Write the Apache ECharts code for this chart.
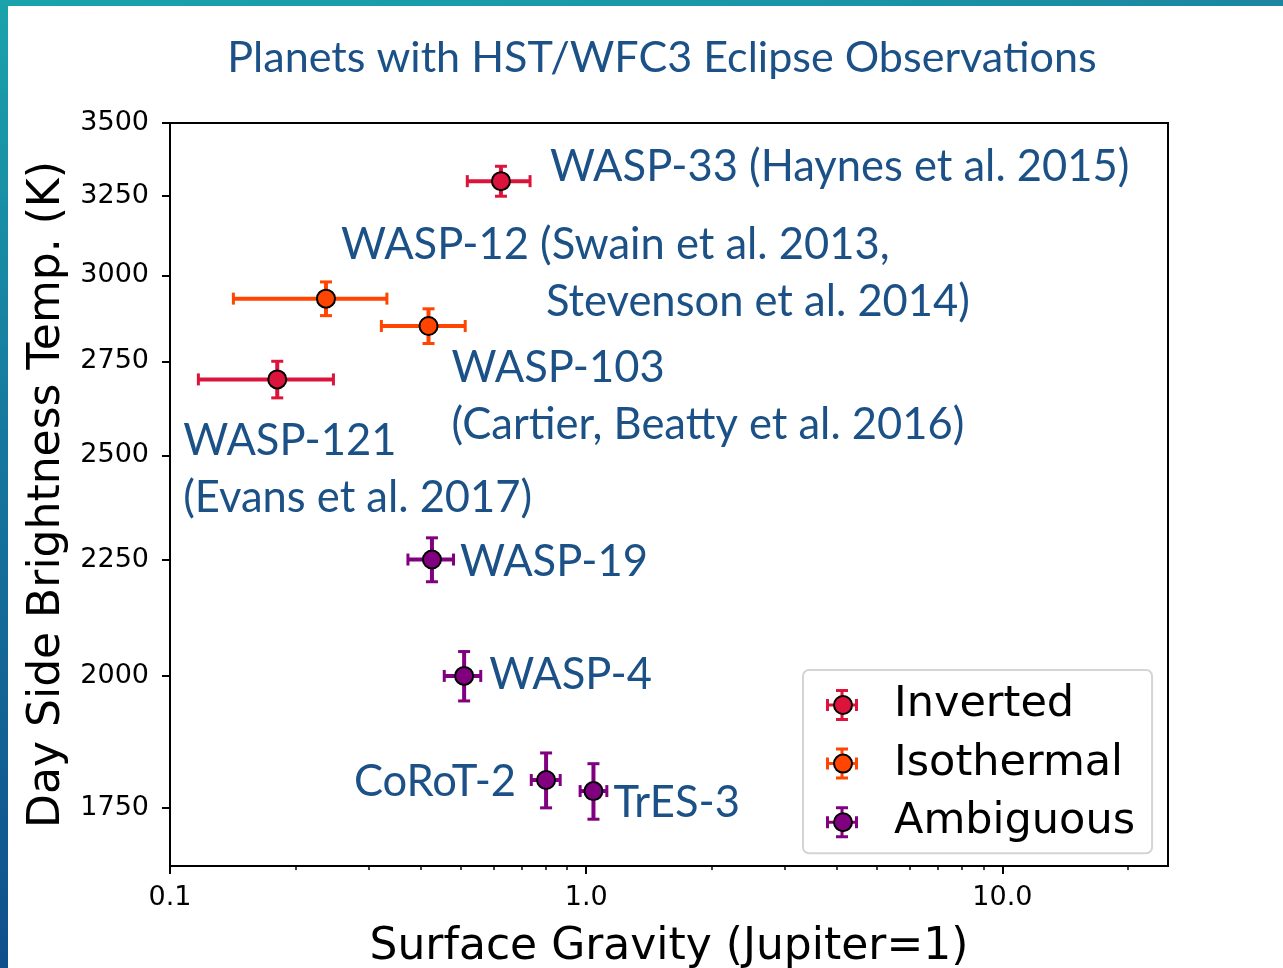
<!DOCTYPE html>
<html>
<head>
<meta charset="utf-8">
<title>Planets with HST/WFC3 Eclipse Observations</title>
<script src="https://cdn.jsdelivr.net/npm/echarts@6/dist/echarts.min.js"></script>
<style>
  html, body { margin: 0; padding: 0; background: #ffffff; }
  #frame-top { position: absolute; left: 0; top: 0; width: 1283px; height: 6px;
    background: linear-gradient(90deg, #1aa3ab 0%, #1997a8 60%, #1b86a0 100%); z-index: 2; }
  #frame-left { position: absolute; left: 0; top: 0; width: 8px; height: 968px;
    background: linear-gradient(180deg, #1aa3ab 0%, #16789e 45%, #0f4f8c 100%); z-index: 2; }
  #chart { position: absolute; left: 0; top: 0; width: 1283px; height: 968px; }
</style>
</head>
<body>
<div id="chart"></div>
<div id="frame-top"></div>
<div id="frame-left"></div>
<script>
// ---- data ----
const planets   = ['WASP-33', 'WASP-12', 'WASP-103', 'WASP-121', 'WASP-19', 'WASP-4', 'CoRoT-2', 'TrES-3'];
const classes   = ['Inverted', 'Isothermal', 'Isothermal', 'Inverted', 'Ambiguous', 'Ambiguous', 'Ambiguous', 'Ambiguous'];
const gravity   = [0.624, 0.237, 0.418, 0.181, 0.426, 0.509, 0.801, 1.041];   // Jupiter = 1
const gravityLo = [0.518, 0.142, 0.322, 0.117, 0.373, 0.456, 0.738, 0.967];
const gravityHi = [0.733, 0.332, 0.512, 0.247, 0.480, 0.558, 0.866, 1.121];
const tempK     = [3300, 2930, 2850, 2700, 2250, 2000, 1800, 1780];
const tempErr   = [50, 50, 50, 50, 50, 50, 50, 50];
const references = [
  'WASP-33 (Haynes et al. 2015)',
  ['WASP-12 (Swain et al. 2013,', 'Stevenson et al. 2014)'],
  ['WASP-103', '(Cartier, Beatty et al. 2016)'],
  ['WASP-121', '(Evans et al. 2017)'],
  'WASP-19',
  'WASP-4',
  'CoRoT-2',
  'TrES-3'
];
const categoryNames = ['Inverted', 'Isothermal', 'Ambiguous'];
const yTicks = [1750, 2000, 2250, 2500, 2750, 3000, 3250, 3500];
const xTicks = [0.1, 1, 10];
const xMinorTicks = [0.2, 0.3, 0.4, 0.5, 0.6, 0.7, 0.8, 0.9, 2, 3, 4, 5, 6, 7, 8, 9, 20];

// ---- styling ----
const colors = { Inverted: '#DC143C', Isothermal: '#FF4500', Ambiguous: '#800080' };
const noteColor = '#1B5186';
const noteFont = 'Lato';
const noteSize = 43.5;
const axisFont = 'DejaVu Sans';
// label anchor relative to each marker: [dx, dy, align]
const notePlacement = {
  'WASP-33':  [49, -14, 'left'],
  'WASP-12':  [15, -25, 'left'],
  'WASP-103': [23, 70, 'left'],
  'WASP-121': [-94, 90, 'left'],
  'WASP-19':  [28, 2, 'left'],
  'WASP-4':   [25, -1, 'left'],
  'CoRoT-2':  [-30, 2, 'right'],
  'TrES-3':   [20, 12, 'left']
};

// error bars: horizontal and vertical whiskers with caps
function renderErrorBar(params, api) {
  const x = api.value(0), y = api.value(1);
  const l = api.coord([api.value(2), y]);
  const r = api.coord([api.value(3), y]);
  const t = api.coord([x, api.value(5)]);
  const b = api.coord([x, api.value(4)]);
  const cap = 6;
  const color = api.visual('color');
  const bar = { stroke: color, lineWidth: 4 };
  const capStyle = { stroke: color, lineWidth: 3 };
  const seg = (x1, y1, x2, y2, style) => ({ type: 'line', shape: { x1, y1, x2, y2 }, style });
  return {
    type: 'group',
    children: [
      seg(l[0], l[1], r[0], r[1], bar),
      seg(t[0], t[1], b[0], b[1], bar),
      seg(l[0], l[1] - cap, l[0], l[1] + cap, capStyle),
      seg(r[0], r[1] - cap, r[0], r[1] + cap, capStyle),
      seg(t[0] - cap, t[1], t[0] + cap, t[1], capStyle),
      seg(b[0] - cap, b[1], b[0] + cap, b[1], capStyle)
    ]
  };
}

function noteLabel(i) {
  const name = planets[i];
  const p = notePlacement[name];
  const ref = references[i];
  let formatter;
  const rich = {};
  if (Array.isArray(ref)) {
    if (name === 'WASP-12') {
      formatter = '{a|' + ref[0] + '}\n{b|' + ref[1] + '}';
      rich.a = { fontFamily: noteFont, fontSize: noteSize, color: noteColor, lineHeight: 57 };
      rich.b = { fontFamily: noteFont, fontSize: noteSize, color: noteColor, lineHeight: 57, padding: [0, 0, 0, 205] };
    } else {
      formatter = ref.join('\n');
    }
  } else {
    formatter = ref;
  }
  return {
    show: true,
    position: 'inside',
    formatter: formatter,
    rich: rich,
    align: p[2],
    verticalAlign: 'middle',
    offset: [p[0], p[1]],
    fontFamily: noteFont,
    fontSize: noteSize,
    lineHeight: 57,
    color: noteColor
  };
}

const series = [];
categoryNames.forEach(function (cat) {
  const idx = planets.map((_, i) => i).filter(i => classes[i] === cat);
  series.push({
    name: cat,
    type: 'custom',
    renderItem: renderErrorBar,
    itemStyle: { color: colors[cat] },
    encode: { x: 0, y: 1 },
    z: 2,
    silent: true,
    data: idx.map(i => [gravity[i], tempK[i], gravityLo[i], gravityHi[i], tempK[i] - tempErr[i], tempK[i] + tempErr[i]])
  });
  series.push({
    name: cat,
    type: 'scatter',
    symbol: 'circle',
    symbolSize: 18,
    z: 3,
    itemStyle: { color: colors[cat], borderColor: '#000000', borderWidth: 2, opacity: 1 },
    emphasis: { disabled: true },
    data: idx.map(i => ({ name: planets[i], value: [gravity[i], tempK[i]], label: noteLabel(i) }))
  });
});

// legend icon: marker with error-bar whiskers
const whiskerIcon = 'path://M10,0H22V3H10Z M10,29H22V32H10Z M14.5,0H17.5V32H14.5Z M0,10H3V22H0Z M29,10H32V22H29Z M0,14.5H32V17.5H0Z';
const legendText = { fontFamily: axisFont, fontSize: 43, lineHeight: 50, color: '#000', padding: [0, 0, 0, 31] };

const option = {
  backgroundColor: '#ffffff',
  animation: false,
  title: {
    text: 'Planets with HST/WFC3 Eclipse Observations',
    left: 657,
    textAlign: 'center',
    top: 32,
    textStyle: { fontFamily: noteFont, fontWeight: 'normal', fontSize: 43.1, color: noteColor }
  },
  grid: {
    left: 170, right: 115, top: 123, bottom: 102,
    outerBoundsMode: 'none', containLabel: false,
    show: true, borderColor: '#000', borderWidth: 2, backgroundColor: 'transparent'
  },
  legend: [
    {
      orient: 'vertical', left: 803, top: 670,
      padding: [10, 17, 6, 23], itemGap: 8.6,
      itemWidth: 32, itemHeight: 32,
      backgroundColor: '#ffffff', borderColor: '#d4d4d4', borderWidth: 2, borderRadius: 6,
      textStyle: legendText,
      data: categoryNames.map(c => ({ name: c, icon: whiskerIcon, itemStyle: { color: colors[c], borderWidth: 0 } })),
      z: 10
    },
    {
      orient: 'vertical', left: 810, top: 670,
      padding: [10, 17, 6, 23], itemGap: 8.6,
      itemWidth: 18, itemHeight: 18,
      textStyle: Object.assign({}, legendText, { color: 'rgba(0,0,0,0)' }),
      inactiveColor: '#ccc',
      data: categoryNames.map(c => ({ name: c, icon: 'circle', itemStyle: { color: colors[c], borderColor: '#000', borderWidth: 2 } })),
      z: 11
    }
  ],
  xAxis: [
    {
      type: 'log', logBase: 10, min: 0.1, max: 25,
      position: 'bottom',
      name: 'Surface Gravity (Jupiter=1)',
      nameLocation: 'middle', nameGap: 60,
      nameTextStyle: { fontFamily: axisFont, fontSize: 44, color: '#000' },
      axisLine: { show: true, lineStyle: { color: '#000', width: 2 } },
      axisTick: { show: true, inside: false, length: 8, lineStyle: { color: '#000', width: 2 }, customValues: xTicks },
      axisLabel: {
        customValues: xTicks, margin: 18,
        fontFamily: axisFont, fontSize: 27, color: '#000',
        formatter: v => Number(v).toFixed(1)
      },
      splitLine: { show: false }, minorTick: { show: false }
    },
    {
      type: 'log', logBase: 10, min: 0.1, max: 25,
      position: 'bottom',
      axisLine: { show: false },
      axisTick: { show: true, inside: false, length: 4, lineStyle: { color: '#000', width: 1.5 }, customValues: xMinorTicks },
      axisLabel: { show: false },
      splitLine: { show: false }
    }
  ],
  yAxis: {
    type: 'log', logBase: 10, min: 1650, max: 3500,
    name: 'Day Side Brightness Temp. (K)',
    nameLocation: 'middle', nameGap: 100,
    nameTextStyle: { fontFamily: axisFont, fontSize: 44, color: '#000' },
    axisLine: { show: true, lineStyle: { color: '#000', width: 2 } },
    axisTick: { show: true, inside: false, length: 8, lineStyle: { color: '#000', width: 2 }, customValues: yTicks },
    axisLabel: {
      customValues: yTicks, margin: 21, padding: [5, 0, 0, 0],
      fontFamily: axisFont, fontSize: 27, color: '#000', formatter: v => String(Math.round(v))
    },
    splitLine: { show: false }, minorTick: { show: false }
  },
  series: series
};

const chart = echarts.init(document.getElementById('chart'), null, { renderer: 'canvas' });
chart.setOption(option);
</script>
</body>
</html>
